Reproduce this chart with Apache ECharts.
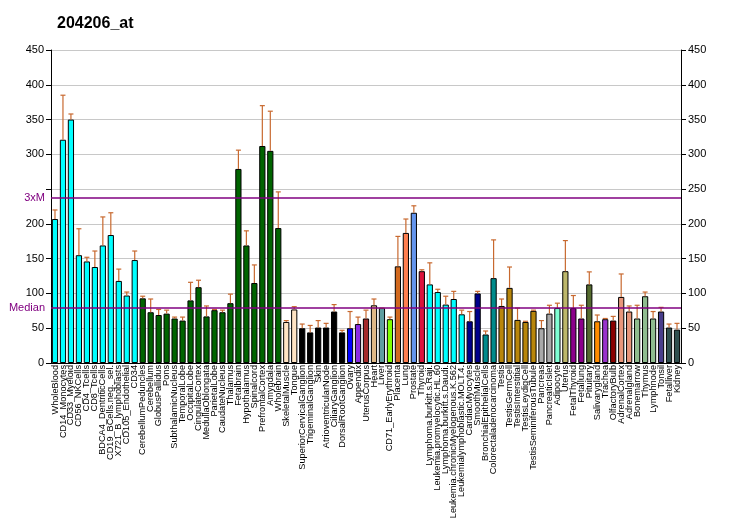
<!DOCTYPE html>
<html><head><meta charset="utf-8">
<script src="https://cdn.jsdelivr.net/npm/echarts@6/dist/echarts.min.js"></script>
<style>html,body{margin:0;padding:0;background:#fff}#c{width:732px;height:530px}</style>
</head><body><div id="c"></div>
<script>
const categories = ["WholeBlood","CD14_Monocytes","CD33_Myeloid","CD56_NKCells","CD4_Tcells","CD8_Tcells","BDCA4_DentriticCells","CD19_BCells.neg._sel.","X721_B_lymphoblasts","CD105_Endothelial","CD34","CerebellumPeduncles","Cerebellum","GlobusPallidus","Pons","SubthalamicNucleus","TemporalLobe","OccipitalLobe","CingulateCortex","MedullaOblongata","ParietalLobe","CaudateNucleus","Thalamus","Fetalbrain","Hypothalamus","Spinalcord","PrefrontalCortex","Amygdala","Wholebrain","SkeletalMuscle","Tongue","SuperiorCervicalGanglion","TrigeminalGanglion","Skin","AtrioventricularNode","CiliaryGanglion","DorsalRootGanglion","Ovary","Appendix","UterusCorpus","Heart","Liver","CD71_EarlyErythroid","Placenta","Lung","Prostate","Thyroid","Lymphoma.burkitt.s.Raji.","Leukemia.promyelocytic.HL.60","Lymphoma.burkitt.s.Daudi.","Leukemia.chronicMyelogenous.K.562","Leukemialymphoblastic.MOLT.4.","CardiacMyocytes","SmoothMuscle","BronchialEpithelialCells","Colorectaladenocarcinoma","Testis","TestisGermCell","TestisInterstitial","TestisLeydigCell","TestisSeminiferousTubule","Pancreas","PancreaticIslet","Adipocyte","Uterus","FetalThyroid","Fetallung","Pituitary","Salivarygland","Trachea","OlfactoryBulb","AdrenalCortex","Adrenalgland","Bonemarrow","Thymus","Lymphnode","Tonsil","Fetalliver","Kidney"];
const values = [207,321,350,155,146,138,169,184,118,97,148,93,73,69,71,64,61,90,109,67,76,73,86,279,169,115,312,305,194,59,77,50,44,51,51,74,44,50,56,64,83,79,63,139,187,216,132,113,102,84,92,70,60,100,41,122,82,108,62,59,75,50,71,79,132,79,64,113,60,63,61,95,74,64,96,64,74,51,48];
const errTops = [220,385,358,193,152,161,210,216,135,102,161,96,92,77,76,66,66,116,119,82,77,76,99,306,190,141,370,362,246,61,81,56,54,61,57,84,47,74,66,76,92,79,66,182,207,226,134,144,106,96,103,76,74,103,46,177,92,138,79,60,76,61,83,86,176,97,83,131,69,64,67,128,82,83,102,74,80,56,57];
const colors = [
 "#00FFFF","#00FFFF","#00FFFF","#00FFFF","#00FFFF","#00FFFF","#00FFFF","#00FFFF","#00FFFF","#00FFFF","#00FFFF",
 "#006400","#006400","#006400","#006400","#006400","#006400","#006400","#006400","#006400","#006400","#006400","#006400","#006400","#006400","#006400","#006400","#006400","#006400",
 "#FFE4C4","#FFE4C4",
 "#000000","#000000","#000000","#000000","#000000","#000000",
 "#0000FF","#8A2BE2","#A52A2A","#DEB887","#5F9EA0","#7FFF00","#D2691E","#FF7F50","#6495ED","#DC143C",
 "#00FFFF","#00FFFF","#00FFFF","#00FFFF","#00FFFF",
 "#00008B","#00008B","#008B8B","#008B8B",
 "#B8860B","#B8860B","#B8860B","#B8860B","#B8860B",
 "#A9A9A9","#A9A9A9","#7FFFD4","#BDB76B","#8B008B","#8B008B","#556B2F","#FF8C00","#9932CC","#8B0000",
 "#E9967A","#E9967A","#8FBC8F","#8FBC8F","#8FBC8F","#483D8B","#2F4F4F","#2F4F4F"];
const medianValue = 79;
const threeXM = 237;
const yTicks = {min:0, max:450, interval:50};

const font = "'Liberation Sans', Arial, sans-serif";
const chart = echarts.init(document.getElementById('c'), null, {renderer:'canvas'});
chart.setOption({
  animation:false,
  backgroundColor:'#fff',
  title:{text:'204206_at', left:52, top:11, textStyle:{fontFamily:font, fontSize:16, fontWeight:'bold', color:'#000'}},
  grid:{left:51, right:51, top:50, bottom:167, containLabel:false},
  xAxis:{type:'category', data:categories,
    axisLine:{lineStyle:{color:'#000'}},
    axisTick:{alignWithLabel:true, length:5, lineStyle:{color:'#000'}},
    axisLabel:{interval:0, rotate:90, fontFamily:font, fontSize:9.2, color:'#000', margin:2}},
  yAxis:[
    {type:'value', position:'left', min:yTicks.min, max:yTicks.max, interval:yTicks.interval,
     axisLine:{show:true, lineStyle:{color:'#000'}}, axisTick:{show:true, length:5, lineStyle:{color:'#000'}},
     splitLine:{show:true, lineStyle:{color:'#C8C8C8', width:1}},
     axisLabel:{fontFamily:font, fontSize:11, color:'#000', margin:7, formatter:v=> v===250?'':String(v)}},
    {type:'value', position:'right', min:yTicks.min, max:yTicks.max, interval:yTicks.interval,
     axisLine:{show:true, lineStyle:{color:'#000'}}, axisTick:{show:true, length:5, lineStyle:{color:'#000'}},
     splitLine:{show:false},
     axisLabel:{fontFamily:font, fontSize:11, color:'#000', margin:7}}
  ],
  series:[
    {type:'bar', barCategoryGap:'22%', data: values.map((v,i)=>({value:v, itemStyle:{color:colors[i]}})),
     itemStyle:{borderColor:'#000', borderWidth:1},
     markLine:{silent:true, symbol:'none', animation:false,
       lineStyle:{color:'#800080', width:1.5, type:'solid'},
       label:{position:'start', fontFamily:font, fontSize:11, color:'#800080', distance:6},
       data:[{yAxis:medianValue, name:'Median', label:{formatter:'Median'}},{yAxis:threeXM, name:'3xM', label:{formatter:'3xM'}}]}},
    {type:'custom', data: errTops.map((e,i)=>[i, values[i], e]), z:3,
     renderItem:(params, api)=>{
       const p0 = api.coord([api.value(0), api.value(1)]);
       const p1 = api.coord([api.value(0), api.value(2)]);
       const st = {stroke:'#C8692F', lineWidth:1.2};
       return {type:'group', children:[
         {type:'line', shape:{x1:p0[0], y1:p0[1], x2:p1[0], y2:p1[1]}, style:st},
         {type:'line', shape:{x1:p1[0]-2.5, y1:p1[1], x2:p1[0]+2.5, y2:p1[1]}, style:st}
       ]};
     }}
  ]
});
</script></body></html>
